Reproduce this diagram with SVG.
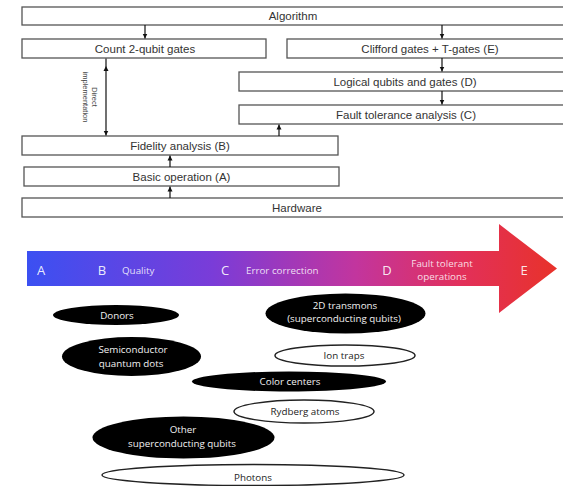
<svg xmlns="http://www.w3.org/2000/svg" width="563" height="486" viewBox="0 0 563 486">
  <defs>
    <marker id="ah" viewBox="0 0 10 10" refX="10" refY="5" markerWidth="5" markerHeight="6" orient="auto-start-reverse" markerUnits="userSpaceOnUse">
      <path d="M0,0 L10,5 L0,10 z" fill="#111"/>
    </marker>
    <linearGradient id="scale" gradientUnits="userSpaceOnUse" x1="27" y1="0" x2="557" y2="0">
      <stop offset="0" stop-color="#3b50f2"/>
      <stop offset="0.35" stop-color="#7a3cd8"/>
      <stop offset="0.62" stop-color="#c2359e"/>
      <stop offset="0.82" stop-color="#e2305a"/>
      <stop offset="1" stop-color="#e8322a"/>
    </linearGradient>
    <style>
      .box { fill: #fff; stroke: #555; stroke-width: 1.3; }
      .lbl { font-family: "Liberation Sans", Arial, sans-serif; font-size: 11.5px; fill: #333; text-anchor: middle; }
      .rot { font-family: "Liberation Sans", Arial, sans-serif; font-size: 7.5px; fill: #444; text-anchor: middle; }
      .con { stroke: #111; stroke-width: 1.2; fill: none; marker-end: url(#ah); }
      .stage { font-family: "Open Sans", "Liberation Sans", sans-serif; font-size: 13px; fill: #fff; fill-opacity: 0.9; text-anchor: middle; }
      .phase { font-family: "Open Sans", "Liberation Sans", sans-serif; font-size: 9.8px; fill: #fff; fill-opacity: 0.85; }
      .tech { font-family: "Open Sans", "Liberation Sans", sans-serif; font-size: 9.8px; text-anchor: middle; }
      .dark { fill: #000; }
      .light { fill: #fff; stroke: #222; stroke-width: 1.5; }
      .dark-t { fill: #f2f2f2; }
      .light-t { fill: #222; }
    </style>
  </defs>
  <rect width="563" height="486" fill="#fff"/>

  <!-- Analysis stack -->
  <g id="algorithm">
    <rect class="box" x="22" y="7" width="545" height="18"/>
    <text class="lbl" x="293" y="20">Algorithm</text>
  </g>
  <g id="count-2q">
    <rect class="box" x="22" y="39" width="244" height="19"/>
    <text class="lbl" x="145" y="52.5">Count 2-qubit gates</text>
  </g>
  <g id="clifford-t">
    <rect class="box" x="287" y="39" width="280" height="19"/>
    <text class="lbl" x="430" y="52.5">Clifford gates + T-gates (E)</text>
  </g>
  <g id="logical">
    <rect class="box" x="239" y="72" width="328" height="19"/>
    <text class="lbl" x="405" y="85.5">Logical qubits and gates (D)</text>
  </g>
  <g id="fault-tolerance">
    <rect class="box" x="239" y="105" width="328" height="19"/>
    <text class="lbl" x="406" y="118.5">Fault tolerance analysis (C)</text>
  </g>
  <g id="fidelity">
    <rect class="box" x="22" y="136" width="316" height="19"/>
    <text class="lbl" x="180" y="149.5">Fidelity analysis (B)</text>
  </g>
  <g id="basic-op">
    <rect class="box" x="24" y="167" width="315" height="19"/>
    <text class="lbl" x="181.5" y="180.5">Basic operation (A)</text>
  </g>
  <g id="hardware">
    <rect class="box" x="22" y="198" width="545" height="19"/>
    <text class="lbl" x="297" y="211.5">Hardware</text>
  </g>

  <g id="connectors">
    <line class="con" x1="145" y1="25" x2="145" y2="38.5"/>
    <line class="con" x1="442" y1="25" x2="442" y2="38.5"/>
    <line class="con" x1="442" y1="58" x2="442" y2="71.5"/>
    <line class="con" x1="442" y1="91" x2="442" y2="104.5"/>
    <line class="con" x1="279" y1="136" x2="279" y2="124.5"/>
    <line class="con" x1="170" y1="167" x2="170" y2="155.5"/>
    <line class="con" x1="170" y1="198" x2="170" y2="186.5"/>
    <line class="con" x1="106" y1="66" x2="106" y2="135.5" style="marker-start:url(#ah)"/>
    <line stroke="#111" stroke-width="1.2" x1="106" y1="58.5" x2="106" y2="66"/>
    <text class="rot" transform="translate(91.5,97) rotate(90)">Direct</text>
    <text class="rot" transform="translate(82.5,97) rotate(90)">implementation</text>
  </g>

  <!-- Progress scale -->
  <g id="scale-arrow">
    <polygon points="27,251 499,251 499,224 557,268.5 499,313 499,286 27,286" fill="url(#scale)"/>
    <text class="stage" x="41" y="275">A</text>
    <text class="stage" x="102" y="275">B</text>
    <text class="phase" x="122" y="274">Quality</text>
    <text class="stage" x="225" y="275">C</text>
    <text class="phase" x="246" y="274">Error correction</text>
    <text class="stage" x="387" y="275">D</text>
    <text class="phase" x="442" y="266.5" text-anchor="middle">Fault tolerant</text>
    <text class="phase" x="442" y="279.5" text-anchor="middle">operations</text>
    <text class="stage" x="524" y="275">E</text>
  </g>

  <!-- Qubit platforms -->
  <g id="donors">
    <ellipse class="dark" cx="116" cy="315" rx="63" ry="10"/>
    <text class="tech dark-t" x="117" y="318.5">Donors</text>
  </g>
  <g id="transmons">
    <ellipse class="dark" cx="345.5" cy="313.5" rx="80" ry="20"/>
    <text class="tech dark-t" x="345" y="308.5">2D transmons</text>
    <text class="tech dark-t" x="344" y="322">(superconducting qubits)</text>
  </g>
  <g id="quantum-dots">
    <ellipse class="dark" cx="131.5" cy="356.5" rx="69.5" ry="19.5"/>
    <text class="tech dark-t" x="133" y="353">Semiconductor</text>
    <text class="tech dark-t" x="131" y="366.5">quantum dots</text>
  </g>
  <g id="ion-traps">
    <ellipse class="light" cx="345" cy="355.5" rx="70" ry="10.5"/>
    <text class="tech light-t" x="344" y="359">Ion traps</text>
  </g>
  <g id="color-centers">
    <ellipse class="dark" cx="289" cy="381.5" rx="97" ry="10"/>
    <text class="tech dark-t" x="290" y="385">Color centers</text>
  </g>
  <g id="rydberg">
    <ellipse class="light" cx="304" cy="411.5" rx="70" ry="11.5"/>
    <text class="tech light-t" x="305" y="415">Rydberg atoms</text>
  </g>
  <g id="other-sc">
    <ellipse class="dark" cx="183.5" cy="437.5" rx="91" ry="21"/>
    <text class="tech dark-t" x="183" y="433">Other</text>
    <text class="tech dark-t" x="182" y="447">superconducting qubits</text>
  </g>
  <g id="photons">
    <ellipse class="light" cx="253" cy="475" rx="151" ry="10.5"/>
    <text class="tech light-t" x="253" y="480.5">Photons</text>
  </g>
</svg>
